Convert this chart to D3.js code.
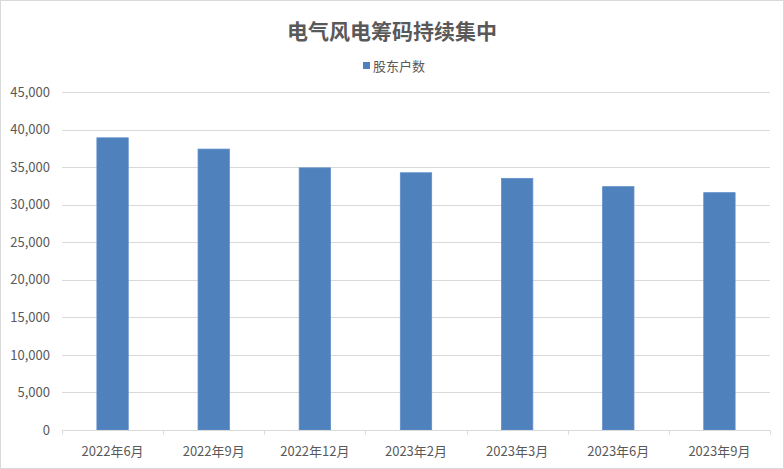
<!DOCTYPE html>
<html>
<head>
<meta charset="utf-8">
<script src="https://cdn.jsdelivr.net/npm/d3@7"></script>
<style>
  body { margin: 0; background: #fff; }
  svg { display: block; font-family: "Noto Sans CJK SC", "Noto Sans", sans-serif; }
</style>
</head>
<body>
<script>
// chart data
var categories = ['2022年6月', '2022年9月', '2022年12月', '2023年2月', '2023年3月', '2023年6月', '2023年9月'];
var holders = [38900, 37400, 34900, 34250, 33500, 32400, 31600];
var yTicks = [0, 5000, 10000, 15000, 20000, 25000, 30000, 35000, 40000, 45000];

var width = 784;
var height = 469;
var margin = {top: 92, right: 14, bottom: 39, left: 62};

var svg = d3.select('body')
    .append('svg')
    .attr('width', width)
    .attr('height', height);

// outer chart border
svg.append('rect')
    .attr('x', 0.5)
    .attr('y', 0.5)
    .attr('width', width - 1)
    .attr('height', height - 1)
    .attr('fill', '#fff')
    .attr('stroke', '#d9d9d9');

var xScale = d3.scaleBand()
    .domain(categories)
    .range([margin.left, width - margin.right])
    .paddingInner(0.69)
    .paddingOuter(0.345);

var yScale = d3.scaleLinear()
    .domain([0, 45000])
    .range([height - margin.bottom, margin.top]);

// gridlines
svg.append('g')
    .selectAll('line')
    .data(yTicks.slice(1))
    .enter()
    .append('line')
    .attr('x1', margin.left)
    .attr('x2', width - margin.right)
    .attr('y1', function(d){ return Math.round(yScale(d)) + 0.5; })
    .attr('y2', function(d){ return Math.round(yScale(d)) + 0.5; })
    .attr('stroke', '#d9d9d9')
    .attr('stroke-width', 1);

// y axis labels
var yAxis = d3.axisLeft(yScale)
    .tickValues(yTicks)
    .tickSize(0)
    .tickPadding(12)
    .tickFormat(d3.format(','));
var yAxisGroup = svg.append('g')
    .attr('transform', 'translate(' + margin.left + ',0)')
    .call(yAxis);
yAxisGroup.select('.domain').remove();
yAxisGroup.selectAll('text')
    .attr('fill', '#595959')
    .attr('font-size', '13px')
    .attr('font-family', '"Noto Sans CJK SC", sans-serif');

// bars
svg.selectAll('.bar')
    .data(holders)
    .enter()
    .append('rect')
    .attr('class', 'bar')
    .attr('x', function(d, i){ return xScale(categories[i]); })
    .attr('y', function(d){ return yScale(d); })
    .attr('width', xScale.bandwidth())
    .attr('height', function(d){ return yScale(0) - yScale(d); })
    .attr('fill', '#4f81bd')
    .attr('stroke', '#5e8fc9')
    .attr('stroke-width', 0.8);

// x axis
var step = xScale.step();
var x0 = margin.left;
var baseY = Math.round(yScale(0)) + 0.5;
var xAxisGroup = svg.append('g');
xAxisGroup.append('line')
    .attr('x1', x0)
    .attr('x2', width - margin.right)
    .attr('y1', baseY)
    .attr('y2', baseY)
    .attr('stroke', '#d9d9d9');
xAxisGroup.selectAll('.tick')
    .data(d3.range(categories.length + 1))
    .enter()
    .append('line')
    .attr('x1', function(i){ return Math.round(x0 + i * step) + 0.5; })
    .attr('x2', function(i){ return Math.round(x0 + i * step) + 0.5; })
    .attr('y1', baseY)
    .attr('y2', baseY + 4)
    .attr('stroke', '#d9d9d9');
xAxisGroup.selectAll('.label')
    .data(categories)
    .enter()
    .append('text')
    .attr('x', function(d){ return xScale(d) + xScale.bandwidth() / 2; })
    .attr('y', baseY + 25)
    .attr('text-anchor', 'middle')
    .attr('fill', '#595959')
    .attr('font-size', '13px')
    .text(function(d){ return d; });

// title
svg.append('text')
    .attr('x', width / 2)
    .attr('y', 39)
    .attr('text-anchor', 'middle')
    .attr('fill', '#595959')
    .attr('font-size', '21px')
    .attr('font-weight', 'bold')
    .text('电气风电筹码持续集中');

// legend
svg.append('rect')
    .attr('x', 363)
    .attr('y', 62)
    .attr('width', 7)
    .attr('height', 7)
    .attr('fill', '#4f81bd');
svg.append('text')
    .attr('x', 373)
    .attr('y', 71)
    .attr('fill', '#595959')
    .attr('font-size', '13px')
    .text('股东户数');
</script>
</body>
</html>
